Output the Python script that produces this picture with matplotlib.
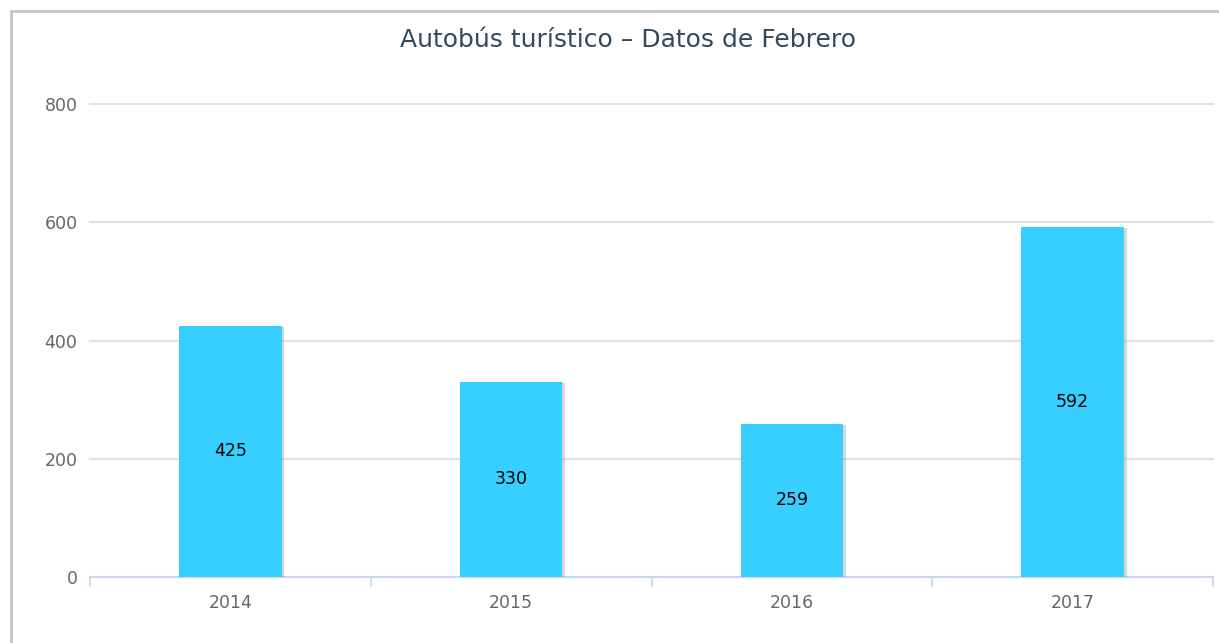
import matplotlib
matplotlib.use("Agg")
import matplotlib.pyplot as plt
import matplotlib.patheffects as pe
from matplotlib.lines import Line2D

years = ["2014", "2015", "2016", "2017"]
values = [425, 330, 259, 592]
y_ticks = [0, 200, 400, 600, 800]

BAR_COL = "#36cfff"
GRID_COL = "#e0e0e0"
AXIS_COL = "#ccd6eb"
LABEL_COL = "#666666"
TITLE_COL = "#34495e"

plt.rcParams["font.family"] = ["DejaVu Sans"]

fig = plt.figure(figsize=(12.19, 6.43), dpi=100)
ax = fig.add_axes([90 / 1219, 66 / 643, 1123 / 1219, 473 / 643])

x = list(range(len(years)))
bars = ax.bar(x, values, width=0.365, color=BAR_COL, zorder=3,
              path_effects=[pe.SimplePatchShadow(offset=(2, -1), shadow_rgbFace="#999999", alpha=0.4),
                            pe.Normal()])
for bar, v in zip(bars, values):
    ax.text(bar.get_x() + bar.get_width() / 2, v / 2, str(v),
            ha="center", va="center", fontsize=12.5, color="black", zorder=4)

ax.set_xlim(-0.5, len(years) - 0.5)
ax.set_ylim(0, 800)
ax.set_yticks(y_ticks)
ax.set_yticklabels([str(t) for t in y_ticks])
ax.yaxis.grid(True, color=GRID_COL, linewidth=1.5)
for gl in ax.get_ygridlines():
    gl.set_clip_on(False)
ax.set_axisbelow(True)

ax.set_xticks(x)
ax.set_xticklabels(years)
ax.set_xticks([i - 0.5 for i in range(len(years) + 1)], minor=True)
ax.tick_params(axis="x", which="major", length=0, pad=12, labelsize=12.5, labelcolor=LABEL_COL)
ax.tick_params(axis="x", which="minor", length=7, color=AXIS_COL, width=1.2)
ax.tick_params(axis="y", length=0, pad=9, labelsize=12.5, labelcolor=LABEL_COL)

for side in ["top", "right", "left"]:
    ax.spines[side].set_visible(False)
ax.spines["bottom"].set_color(AXIS_COL)
ax.spines["bottom"].set_linewidth(1.5)

# chart border
fig.add_artist(Line2D([11 / 1219, 11 / 1219], [0, 1 - 11 / 643], transform=fig.transFigure,
                      color="#c4c4c4", linewidth=2))
fig.add_artist(Line2D([11 / 1219, 1], [1 - 11 / 643, 1 - 11 / 643], transform=fig.transFigure,
                      color="#c4c4c4", linewidth=2))

fig.text(628 / 1219, 1 - 40 / 643, "Autobús turístico – Datos de Febrero",
         ha="center", va="center", fontsize=18, color=TITLE_COL)

fig.savefig("out.png", dpi=100, facecolor="white")
